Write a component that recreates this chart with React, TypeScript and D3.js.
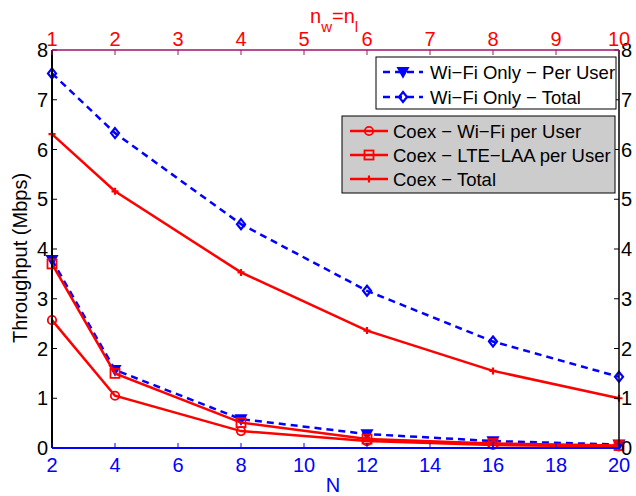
import React, { useEffect } from 'react';
import * as d3 from 'd3';

// N values (bottom axis) and the matching n_w = n_l values (top axis)
const users = [2, 4, 8, 12, 16, 20];
const bottomTicks = [2, 4, 6, 8, 10, 12, 14, 16, 18, 20];
const topTicks = [1, 2, 3, 4, 5, 6, 7, 8, 9, 10];
const yTicks = [0, 1, 2, 3, 4, 5, 6, 7, 8];

const wifiOnlyPerUser = [3.78, 1.57, 0.58, 0.28, 0.14, 0.07];
const wifiOnlyTotal = [7.53, 6.33, 4.5, 3.16, 2.14, 1.43];
const coexWifiPerUser = [2.57, 1.05, 0.34, 0.14, 0.06, 0.03];
const coexLtePerUser = [3.7, 1.5, 0.51, 0.18, 0.09, 0.05];
const coexTotal = [6.31, 5.16, 3.53, 2.36, 1.55, 1.0];

const W = 636;
const H = 496;
const margin = { left: 52, right: 17, top: 50, bottom: 48 };
const FONT = '"Liberation Sans", Arial, Helvetica, sans-serif';
const BLUE = '#0000ff';
const RED = '#ff0000';
const TICK_FS = 20;
const LEG_FS = 18.5;

type Marker = 'tri' | 'diamond' | 'circle' | 'square' | 'plus';

const MarkerShape = ({ kind, x, y, color }: { kind: Marker; x: number; y: number; color: string }) => {
  const sw = 1.8;
  if (kind === 'tri') {
    return <path d={`M${x - 5},${y - 4}L${x + 5},${y - 4}L${x},${y + 5}Z`} fill={color} stroke={color} strokeWidth={sw} />;
  }
  if (kind === 'diamond') {
    return <path d={`M${x},${y - 5}L${x + 4},${y}L${x},${y + 5}L${x - 4},${y}Z`} fill="none" stroke={color} strokeWidth={2.2} />;
  }
  if (kind === 'circle') {
    return <circle cx={x} cy={y} r={4.2} fill="none" stroke={color} strokeWidth={sw} />;
  }
  if (kind === 'square') {
    return <rect x={x - 4.5} y={y - 4.5} width={9} height={9} fill="none" stroke={color} strokeWidth={sw} />;
  }
  return <path d={`M${x - 3.5},${y}L${x + 3.5},${y}M${x},${y - 3.5}L${x},${y + 3.5}`} stroke={color} strokeWidth={2.2} />;
};

const seriesList: { name: string; values: number[]; color: string; dash?: string; marker: Marker }[] = [
  { name: 'Wi\u2212Fi Only \u2212 Per User', values: wifiOnlyPerUser, color: BLUE, dash: '7,5', marker: 'tri' },
  { name: 'Wi\u2212Fi Only \u2212 Total', values: wifiOnlyTotal, color: BLUE, dash: '7,5', marker: 'diamond' },
  { name: 'Coex \u2212 Wi\u2212Fi per User', values: coexWifiPerUser, color: RED, marker: 'circle' },
  { name: 'Coex \u2212 LTE\u2212LAA per User', values: coexLtePerUser, color: RED, marker: 'square' },
  { name: 'Coex \u2212 Total', values: coexTotal, color: RED, marker: 'plus' },
];

export default function App() {
  useEffect(() => {
    document.body.style.margin = '0';
  }, []);

  const x = d3.scaleLinear().domain([2, 20]).range([margin.left, W - margin.right]);
  const xTop = d3.scaleLinear().domain([1, 10]).range([margin.left, W - margin.right]);
  const y = d3.scaleLinear().domain([0, 8]).range([H - margin.bottom, margin.top]);
  const line = d3.line<number>().x((_, i) => x(users[i])).y((d) => y(d));

  const x0 = margin.left;
  const x1 = W - margin.right;
  const y0 = H - margin.bottom;
  const y1 = margin.top;
  const tickLen = 5;

  // draw blue first, red on top (as in the reference)
  const drawOrder = [1, 0, 4, 3, 2];

  return (
    <svg width={W} height={H} style={{ display: 'block', background: '#fff' }} fontFamily={FONT}>
      <rect x={0} y={0} width={W} height={H} fill="#fff" />

      {/* series */}
      {drawOrder.map((si) => {
        const s = seriesList[si];
        return (
          <g key={s.name}>
            <path d={line(s.values) || ''} fill="none" stroke={s.color} strokeWidth={2.5} strokeDasharray={s.dash} />
            {s.values.map((v, i) => (
              <MarkerShape key={i} kind={s.marker} x={x(users[i])} y={y(v)} color={s.color} />
            ))}
          </g>
        );
      })}

      {/* left axis */}
      <line x1={x0} x2={x0} y1={y0} y2={y1} stroke="#000" strokeWidth={2} />
      {yTicks.map((t) => (
        <g key={'l' + t}>
          <line x1={x0} x2={x0 + tickLen} y1={y(t)} y2={y(t)} stroke="#000" strokeWidth={1} />
          <text x={48} y={y(t)} dy="0.36em" textAnchor="end" fontSize={TICK_FS} fill="#000">{t}</text>
        </g>
      ))}

      {/* right axis */}
      <line x1={x1} x2={x1} y1={y0} y2={y1} stroke="#000" strokeWidth={1.5} />
      {yTicks.map((t) => (
        <g key={'r' + t}>
          <line x1={x1} x2={x1 - tickLen} y1={y(t)} y2={y(t)} stroke="#000" strokeWidth={1} />
          <text x={x1 + 2} y={y(t)} dy="0.36em" textAnchor="start" fontSize={TICK_FS} fill="#000">{t}</text>
        </g>
      ))}

      {/* bottom axis */}
      <line x1={x0} x2={x1} y1={y0} y2={y0} stroke={BLUE} strokeWidth={2} />
      {bottomTicks.map((t) => (
        <g key={'b' + t}>
          <line x1={x(t)} x2={x(t)} y1={y0} y2={y0 - tickLen} stroke={BLUE} strokeWidth={1} />
          <text x={x(t)} y={471.5} textAnchor="middle" fontSize={TICK_FS} fill={BLUE}>{t}</text>
        </g>
      ))}
      <text x={333} y={491.5} textAnchor="middle" fontSize={TICK_FS} fill={BLUE}>N</text>

      {/* top axis */}
      <line x1={x0} x2={x1} y1={y1} y2={y1} stroke="#a0106a" strokeWidth={1.4} />
      {topTicks.map((t) => (
        <g key={'t' + t}>
          <line x1={xTop(t)} x2={xTop(t)} y1={y1} y2={y1 + tickLen} stroke="#a0106a" strokeWidth={1} />
          <text x={xTop(t)} y={46} textAnchor="middle" fontSize={TICK_FS} fill={RED}>{t}</text>
        </g>
      ))}
      <text x={310} y={23} fontSize={TICK_FS} fill={RED}>
        n<tspan fontSize={15} dy={9}>w</tspan><tspan dy={-9}>=n</tspan><tspan fontSize={15} dy={9}>l</tspan>
      </text>

      {/* y label */}
      <text transform={`translate(27,258) rotate(-90)`} textAnchor="middle" fontSize={TICK_FS} fill="#000">
        Throughput (Mbps)
      </text>

      {/* legend: Wi-Fi only */}
      <rect x={376} y={57} width={240} height={52} fill="#fff" stroke="#000" strokeWidth={1} />
      {[0, 1].map((si, row) => {
        const s = seriesList[si];
        const cy = 72 + row * 25;
        return (
          <g key={'lg' + si}>
            <line x1={383} x2={423} y1={cy} y2={cy} stroke={s.color} strokeWidth={2.5} strokeDasharray={s.dash} />
            <MarkerShape kind={s.marker} x={403} y={cy} color={s.color} />
            <text x={430} y={cy} dy="0.36em" fontSize={LEG_FS} fill="#000">{s.name}</text>
          </g>
        );
      })}

      {/* legend: Coex */}
      <rect x={342} y={116} width={273} height={77} fill="#cccccc" stroke="#000" strokeWidth={1} />
      {[2, 3, 4].map((si, row) => {
        const s = seriesList[si];
        const cy = 131 + row * 24;
        return (
          <g key={'lg' + si}>
            <line x1={350} x2={388} y1={cy} y2={cy} stroke={s.color} strokeWidth={2.5} />
            <MarkerShape kind={s.marker} x={369} y={cy} color={s.color} />
            <text x={393} y={cy} dy="0.36em" fontSize={LEG_FS} fill="#000">{s.name}</text>
          </g>
        );
      })}
    </svg>
  );
}
